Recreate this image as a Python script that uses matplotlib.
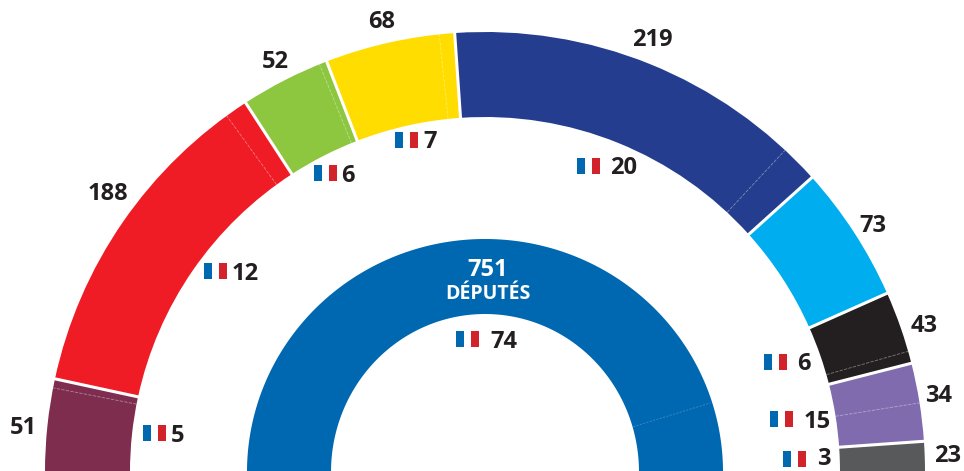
import numpy as np
import matplotlib
matplotlib.use('Agg')
import matplotlib.pyplot as plt
from matplotlib.patches import Wedge, Rectangle

plt.rcParams['font.family'] = ['Open Sans', 'DejaVu Sans']

# sieges par groupe, de gauche a droite
seats = [51, 188, 52, 68, 219, 73, 43, 34, 23]
french = [5, 12, 6, 7, 20, 0, 6, 15, 3]
# longueur des arcs : pas tout a fait proportionnelle aux sieges
arc_seats = [51, 187, 49.5, 71.5, 216.7, 75.3, 40.3, 43, 16.7]
arc_french = [5, 12.5, 4.2, 8.4, 20.8, 0, 6.7, 21, 0]
colors = ['#7f2d4f', '#ef1c25', '#8dc63f', '#ffdd00', '#253d8e',
          '#00aeef', '#231f20', '#7f6bae', '#58595b']
total_seats = 751
total_french = 74
inner_part = 7

TEXT = '#231f20'
BLUE = '#0067b1'
RED = '#d2232a'
NUM = 17

# tout est place en pixels de l'image
W, H = 964, 471
CX, CY = 485, 472
R_OUT, R_IN = 440, 355

fig = plt.figure(figsize=(W / 100, H / 100), dpi=100)
ax = fig.add_axes([0, 0, 1, 1])
ax.set_xlim(0, W)
ax.set_ylim(H, 0)
ax.set_aspect('equal')
ax.axis('off')


def polar(r, a):
    # angle en degres, 180 a gauche, 0 a droite, y vers le bas
    return CX + r * np.cos(np.radians(a)), CY - r * np.sin(np.radians(a))


def radial(a, r0, r1, **kw):
    x0, y0 = polar(r0, a)
    x1, y1 = polar(r1, a)
    ax.plot([x0, x1], [y0, y1], dash_capstyle='butt', solid_capstyle='butt', **kw)


def number(x, y, label, color=TEXT, ha='center', size=NUM):
    # y = milieu des chiffres
    ax.text(x, y + 8.5 * size / NUM, label, fontsize=size, fontweight='bold',
            color=color, ha=ha, va='baseline')


def flag(x, y, dx, label, dy=0):
    ax.add_patch(Rectangle((x, y), 8, 16, fc=BLUE, ec='none'))
    ax.add_patch(Rectangle((x + 15, y), 8, 16, fc=RED, ec='none'))
    number(x + dx, y + 8 + dy, label, ha='left')


# arc exterieur (axe y inverse : les angles du Wedge sont en negatif)
angle = 180.0
arc_total = sum(arc_seats)
bounds = []
for n, f, c in zip(arc_seats, arc_french, colors):
    end = angle - n / arc_total * 180
    ax.add_patch(Wedge((CX, CY), R_OUT, -angle, -end, width=R_OUT - R_IN, fc=c, ec='none'))
    # part francaise, en fin de segment
    if f > 0:
        radial(end + f / arc_total * 180, R_IN, R_OUT, color='white', lw=0.6,
               alpha=0.4, linestyle=(0, (4, 1.5)))
    bounds.append(end)
    angle = end
for b in bounds[:-1]:
    radial(b, R_IN - 2, R_OUT + 2, color='white', lw=2.2)

# arc interieur : un peu aplati en haut sur l'original
t = np.radians(np.linspace(180, 0, 181))
xs = np.concatenate([CX + 238 * np.cos(t), CX + 154 * np.cos(t[::-1])])
ys = np.concatenate([CY - 233 * np.sin(t), CY - 158 * np.sin(t[::-1])])
ax.fill(xs, ys, color=BLUE, lw=0)
radial(inner_part / total_french * 180, 155, 236, color='white', lw=0.5,
       alpha=0.3, linestyle=(0, (3, 2)))

# totaux au bord de l'arc
seat_pos = [(23, 425), (108, 191), (275, 60), (382, 19), (652, 38),
            (873, 224), (924, 323), (939, 394), (948, 454)]
for n, (x, y) in zip(seats, seat_pos):
    number(x, y, str(n))

# drapeaux
flag_pos = [(143, 425, 28), (204, 263, 28), (314, 165, 27), (395, 132, 28), (577, 158, 33),
            None, (764, 354, 33), (770, 411, 34), (783, 451, 34)]
for f, pos in zip(french, flag_pos):
    if pos is not None:
        # le "3" du bas remonte un peu pour rester dans l'image
        flag(pos[0], pos[1], pos[2], str(f), dy=-2.5 if pos[1] > 440 and pos[0] > 500 else 0)
flag(456, 331, 34, str(total_french))

number(488, 268, str(total_seats), color='white')
number(488, 292, 'DÉPUTÉS', color='white', size=14)

fig.savefig('out.png', dpi=100)
